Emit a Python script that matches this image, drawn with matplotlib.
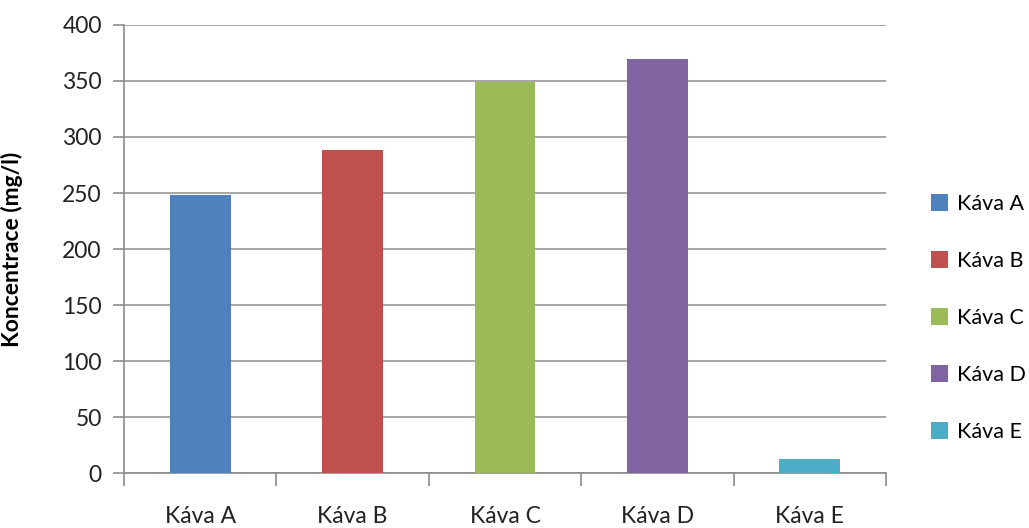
import matplotlib
matplotlib.use("Agg")
import matplotlib.pyplot as plt
from matplotlib.patches import Patch

plt.rcParams['font.family'] = ['Lato', 'DejaVu Sans']

categories = ["Káva A", "Káva B", "Káva C", "Káva D", "Káva E"]
values = [248, 288, 349, 370, 12.5]
colors = ["#4F81BD", "#C0504D", "#9BBB59", "#8064A2", "#4BACC6"]
yticks = [0, 50, 100, 150, 200, 250, 300, 350, 400]
ylabel = "Koncentrace (mg/l)"

fig = plt.figure(figsize=(10.29, 5.28), dpi=100)
ax = fig.add_axes([124 / 1029, 1 - 473 / 528, (886 - 124) / 1029, (473 - 25) / 528])

x = list(range(len(categories)))
ax.bar(x, values, width=0.4, color=colors, zorder=3)

ax.set_xlim(-0.5, len(categories) - 0.5)
ax.set_ylim(0, 400)
ax.set_yticks(yticks)
ax.set_yticklabels([str(t) for t in yticks], fontsize=16.5, color="#222222")
ax.yaxis.grid(True, color="#A6A6A6", linewidth=1.4, zorder=0)

# category labels centered, tick marks at category boundaries
ax.set_xticks(x)
ax.set_xticklabels(categories, fontsize=16.5, color="#222222")
ax.tick_params(axis="x", length=0, pad=24)
ax.set_xticks([i - 0.5 for i in range(len(categories) + 1)], minor=True)
ax.tick_params(axis="x", which="minor", length=9, width=1.2, color="#8C8C8C")
ax.tick_params(axis="y", length=8, width=1.2, color="#8C8C8C", pad=8)

for side in ["top", "right"]:
    ax.spines[side].set_visible(False)
for side in ["left", "bottom"]:
    ax.spines[side].set_color("#8C8C8C")
    ax.spines[side].set_linewidth(1.2)

ax.set_ylabel(ylabel, fontsize=16.5, fontweight="bold")
ax.yaxis.set_label_coords(-0.132, 0.5)

handles = [Patch(facecolor=c, edgecolor="none") for c in colors]
fig.legend(handles, categories, loc="center left",
           bbox_to_anchor=(931 / 1029, 1 - 318 / 528), frameon=False,
           borderaxespad=0, borderpad=0,
           fontsize=15.5, labelspacing=1.72, handlelength=0.8,
           handleheight=0.8, handletextpad=0.4)

fig.savefig("out.png", dpi=100)
